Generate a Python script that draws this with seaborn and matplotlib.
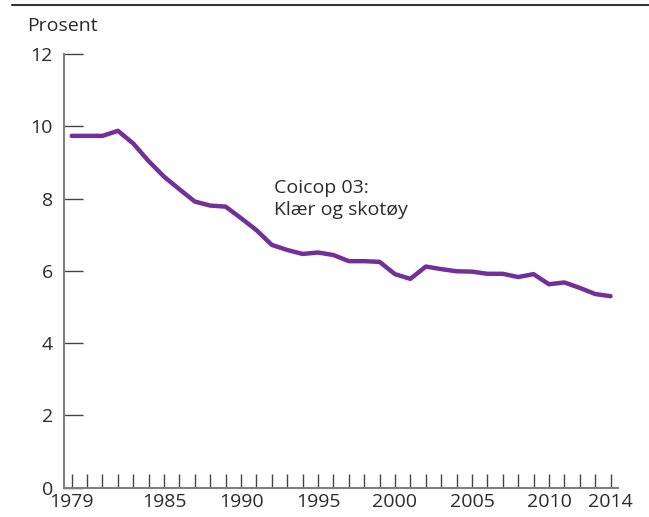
import pandas as pd
import matplotlib
matplotlib.use("Agg")
import matplotlib.pyplot as plt
import seaborn as sns

years = list(range(1979, 2015))
share = [9.74, 9.74, 9.74, 9.88, 9.53, 9.04, 8.61, 8.26, 7.92, 7.81,
         7.78, 7.46, 7.13, 6.72, 6.58, 6.47, 6.51, 6.44, 6.27, 6.27,
         6.25, 5.91, 5.78, 6.12, 6.05, 5.99, 5.98, 5.92, 5.92, 5.83,
         5.91, 5.63, 5.68, 5.53, 5.36, 5.30]
y_ticks = [0, 2, 4, 6, 8, 10, 12]
x_labels = [1979, 1985, 1990, 1995, 2000, 2005, 2010, 2014]

sns.set_style("ticks")
plt.rcParams["font.family"] = ["Open Sans", "DejaVu Sans"]

text_col = "#2b2b2b"
line_col = "#71309a"
fs = 14

df = pd.DataFrame({"year": years, "share": share})

fig = plt.figure(figsize=(6.49, 5.17), dpi=100)
ax = fig.add_axes([0.0986, 0.057, 0.854, 0.838])

sns.lineplot(data=df, x="year", y="share", color=line_col, linewidth=3.2, ax=ax)

ax.set_xlim(1978.5, 2014.5)
ax.set_ylim(0, 12)
ax.set_xlabel("")
ax.set_ylabel("")

ax.set_yticks(y_ticks)
ax.set_yticklabels([str(v) for v in y_ticks], fontsize=fs, color=text_col)
ax.set_xticks(years)
ax.set_xticklabels([str(y) if y in x_labels else "" for y in years],
                   fontsize=fs, color=text_col)

ax.tick_params(axis="y", direction="in", length=14, width=1, color="#444444", pad=8)
ax.tick_params(axis="x", direction="in", length=10, width=1, color="#444444", pad=4)

sns.despine(ax=ax, top=True, right=True)
for side in ["left", "bottom"]:
    ax.spines[side].set_color("#808080")
    ax.spines[side].set_linewidth(1.5)

ax.text(1992.15, 8.55, "Coicop 03:\nKlær og skotøy", fontsize=fs,
        color=text_col, va="top", ha="left", linespacing=1.3)

fig.text(27 / 649, 1 - 26 / 517, "Prosent", fontsize=fs, color=text_col,
         ha="left", va="center")
fig.add_artist(plt.Line2D([12 / 649, 1.0], [1 - 5 / 517, 1 - 5 / 517],
                          transform=fig.transFigure, color="#333333", linewidth=1.5))

fig.savefig("out.png", dpi=100)
